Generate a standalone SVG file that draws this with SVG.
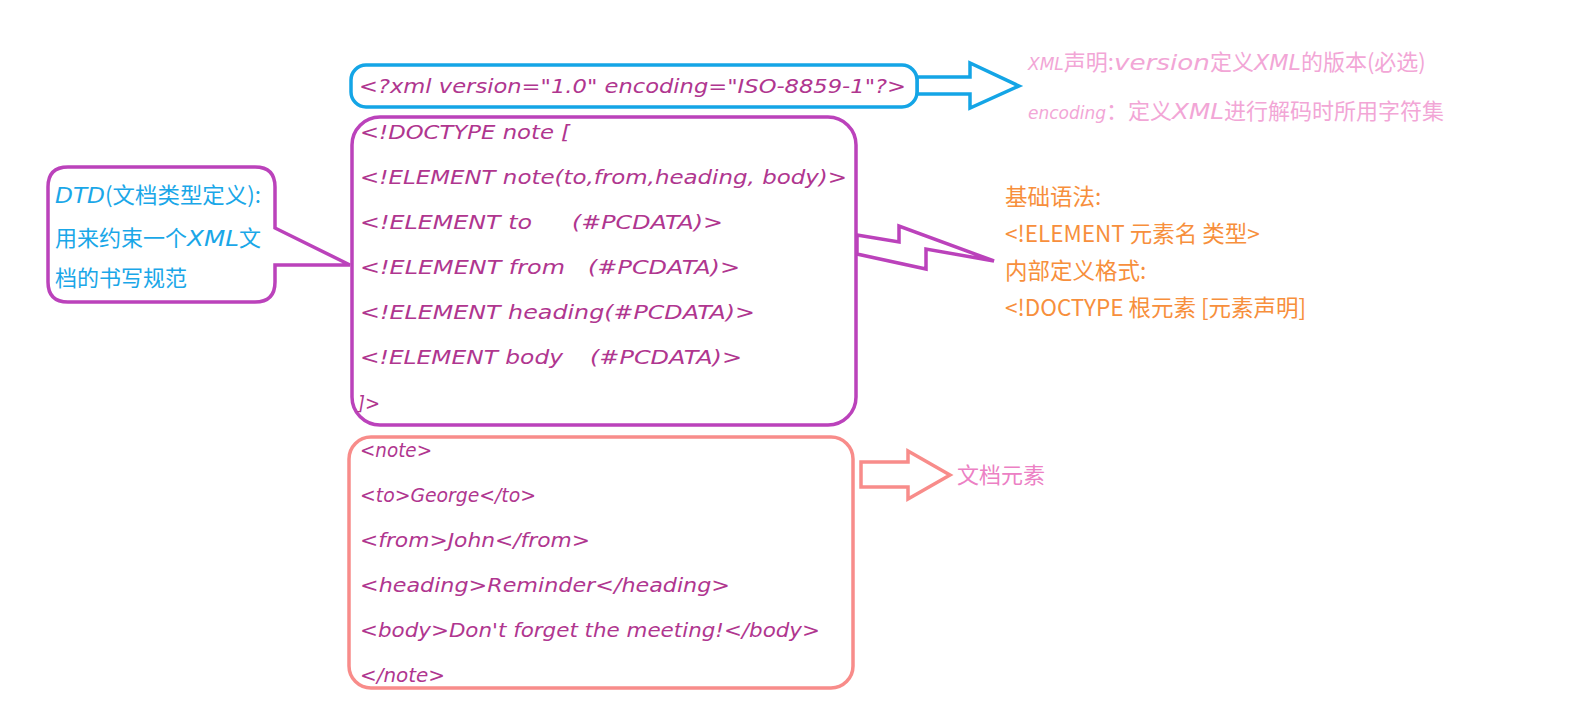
<svg xmlns="http://www.w3.org/2000/svg" width="1587" height="705" viewBox="0 0 1587 705">
<style>
.hw{font-family:"DejaVu Sans","Liberation Sans",sans-serif;font-style:oblique;font-size:20px;fill:#B0368F}
.cjk{font-family:"Noto Sans CJK SC","Liberation Sans",sans-serif}
.hwi{font-family:"DejaVu Sans","Liberation Sans",sans-serif;font-style:oblique}
.sm{font-size:17px}
.blueBox{fill:#fff;stroke:#14A5E6;stroke-width:3.5}
.purpleBox{fill:#fff;stroke:#BB42BB;stroke-width:3.5}
.salmonBox{fill:#fff;stroke:#F88C8A;stroke-width:3.5}
.pink{font-size:22px;fill:#F2A6D6}
.orange{font-size:22.5px;fill:#F78F3C}
.blueTxt{font-size:22px;fill:#1AA7E8}
.docLbl{font-size:22px;fill:#EC80C4}
</style>
<rect width="1587" height="705" fill="#fff"/>

<g id="connectors">
  <polygon id="arrow-xml" points="917,77 970,77 970,63 1019,86 970,108 970,94 917,94" fill="#fff" stroke="#14A5E6" stroke-width="3.5" stroke-linejoin="miter"/>
  <polygon id="arrow-dtd" points="857,235 899,242 899,226 994,261 926,249 926,269 857,254" fill="#fff" stroke="#BB42BB" stroke-width="3.5"/>
  <polygon id="arrow-doc" points="861,462 908,462 908,451 950,475 908,499 908,487 861,487" fill="#fff" stroke="#F88C8A" stroke-width="3.5"/>
</g>

<g id="node-xmldecl">
  <rect class="blueBox" x="351" y="65" width="566" height="42" rx="15"/>
  <text class="hw" x="359" y="93" textLength="547" lengthAdjust="spacingAndGlyphs">&lt;?xml version="1.0" encoding="ISO-8859-1"?&gt;</text>
</g>

<g id="node-dtd">
  <rect class="purpleBox" x="352" y="117" width="504" height="308" rx="28"/>
  <text class="hw" x="360" y="139" textLength="210" lengthAdjust="spacingAndGlyphs">&lt;!DOCTYPE note [</text>
  <text class="hw" x="360" y="184" textLength="487" lengthAdjust="spacingAndGlyphs">&lt;!ELEMENT note(to,from,heading, body)&gt;</text>
  <text class="hw" y="229"><tspan x="360" textLength="172" lengthAdjust="spacingAndGlyphs">&lt;!ELEMENT to</tspan><tspan x="572" textLength="151" lengthAdjust="spacingAndGlyphs">(#PCDATA)&gt;</tspan></text>
  <text class="hw" y="274"><tspan x="360" textLength="205" lengthAdjust="spacingAndGlyphs">&lt;!ELEMENT from</tspan><tspan x="588" textLength="152" lengthAdjust="spacingAndGlyphs">(#PCDATA)&gt;</tspan></text>
  <text class="hw" x="360" y="319" textLength="395" lengthAdjust="spacingAndGlyphs">&lt;!ELEMENT heading(#PCDATA)&gt;</text>
  <text class="hw" y="364"><tspan x="360" textLength="203" lengthAdjust="spacingAndGlyphs">&lt;!ELEMENT body</tspan><tspan x="590" textLength="152" lengthAdjust="spacingAndGlyphs">(#PCDATA)&gt;</tspan></text>
  <text class="hw" x="358" y="410" textLength="22" lengthAdjust="spacingAndGlyphs">]&gt;</text>
</g>

<g id="node-doc">
  <rect class="salmonBox" x="349" y="437" width="504" height="251" rx="22"/>
  <text class="hw" x="360" y="457" textLength="72" lengthAdjust="spacingAndGlyphs">&lt;note&gt;</text>
  <text class="hw" x="360" y="502" textLength="176" lengthAdjust="spacingAndGlyphs">&lt;to&gt;George&lt;/to&gt;</text>
  <text class="hw" x="360" y="547" textLength="230" lengthAdjust="spacingAndGlyphs">&lt;from&gt;John&lt;/from&gt;</text>
  <text class="hw" x="360" y="592" textLength="370" lengthAdjust="spacingAndGlyphs">&lt;heading&gt;Reminder&lt;/heading&gt;</text>
  <text class="hw" x="360" y="637" textLength="460" lengthAdjust="spacingAndGlyphs">&lt;body&gt;Don't forget the meeting!&lt;/body&gt;</text>
  <text class="hw" x="360" y="682" textLength="85" lengthAdjust="spacingAndGlyphs">&lt;/note&gt;</text>
</g>

<g id="node-callout">
  <path d="M68,167 H255 Q275,167 275,187 V228 L350,265 L275,265 V282 Q275,302 255,302 H68 Q48,302 48,282 V187 Q48,167 68,167 Z" fill="#fff" stroke="#BB42BB" stroke-width="3.5" stroke-linejoin="miter"/>
  <text class="cjk blueTxt" x="55" y="203"><tspan class="hwi" textLength="50" lengthAdjust="spacingAndGlyphs">DTD</tspan><tspan textLength="156" lengthAdjust="spacingAndGlyphs">(文档类型定义):</tspan></text>
  <text class="cjk blueTxt" x="55" y="246">用来约束一个<tspan class="hwi" textLength="52" lengthAdjust="spacingAndGlyphs">XML</tspan>文</text>
  <text class="cjk blueTxt" x="55" y="286">档的书写规范</text>
</g>

<g id="label-xml">
  <text class="cjk pink" x="1028" y="70"><tspan class="hwi sm">XML</tspan>声明:<tspan class="hwi" textLength="96" lengthAdjust="spacingAndGlyphs">version</tspan>定义<tspan class="hwi" textLength="47" lengthAdjust="spacingAndGlyphs">XML</tspan>的版本(必选)</text>
  <text class="cjk pink" x="1028" y="119"><tspan class="hwi sm">encoding</tspan>：定义<tspan class="hwi" textLength="52" lengthAdjust="spacingAndGlyphs">XML</tspan>进行解码时所用字符集</text>
</g>

<g id="label-dtd">
  <text class="cjk orange" x="1005" y="205">基础语法:</text>
  <text class="cjk orange" x="1005" y="242">&lt;!ELEMENT 元素名 类型&gt;</text>
  <text class="cjk orange" x="1005" y="279">内部定义格式:</text>
  <text class="cjk orange" x="1005" y="316">&lt;!DOCTYPE 根元素 [元素声明]</text>
</g>

<g id="label-doc">
  <text class="cjk docLbl" x="957" y="483">文档元素</text>
</g>
</svg>
